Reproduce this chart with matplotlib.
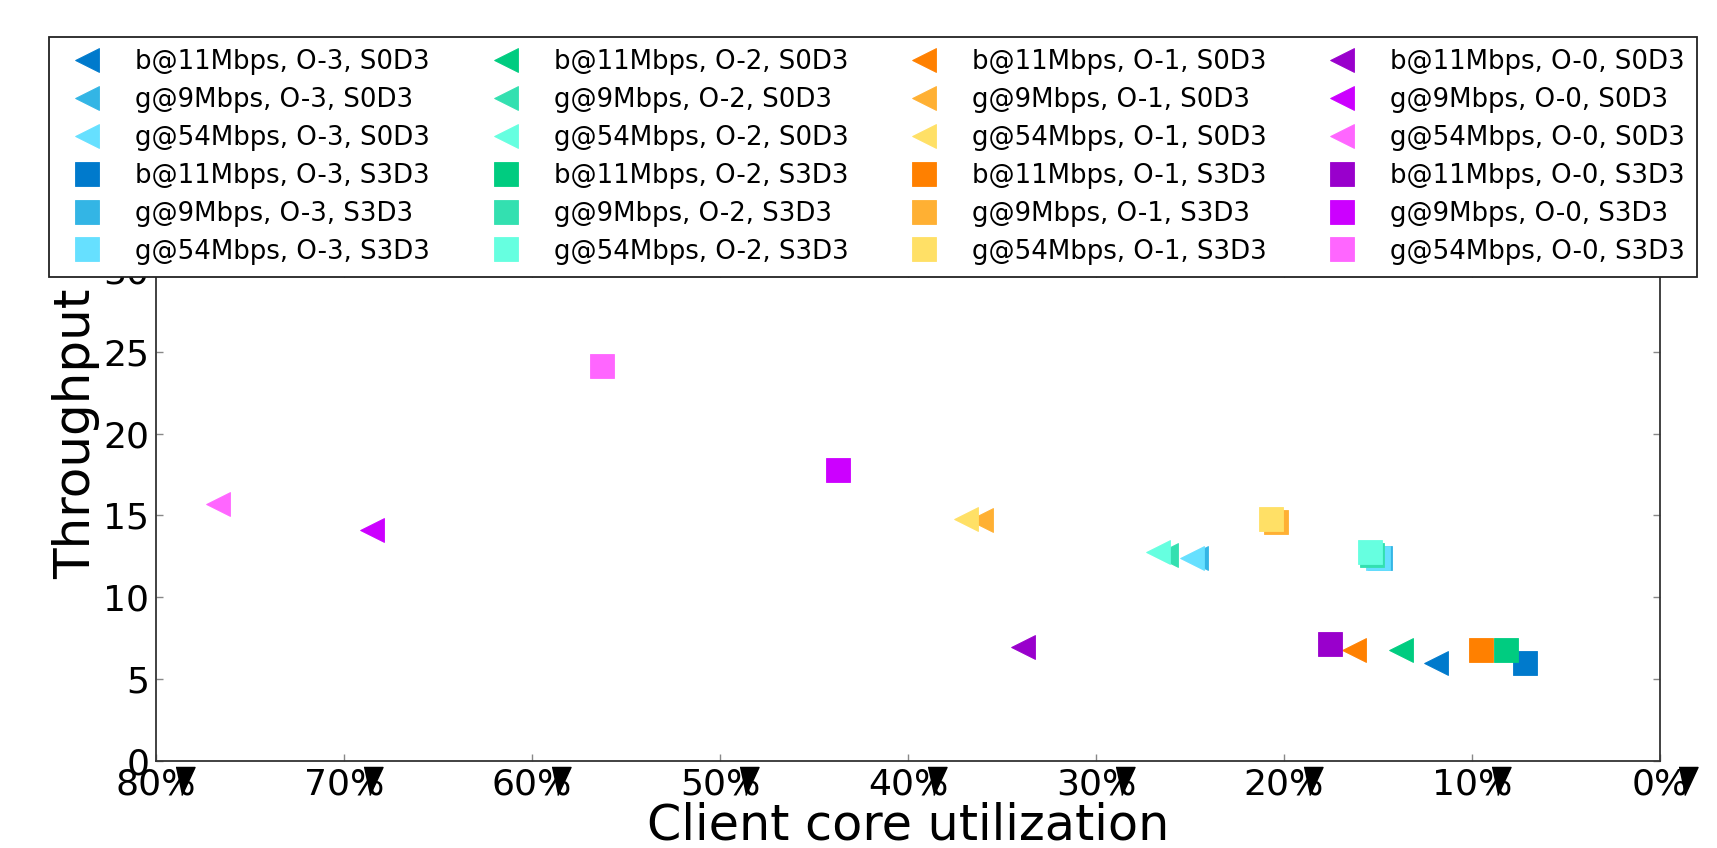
import matplotlib

matplotlib.use("Agg")
import matplotlib.pyplot as plt
from matplotlib.transforms import offset_copy

# series order: per O-level, b@11 S0D3, g@9 S0D3, g@54 S0D3, b@11 S3D3, g@9 S3D3, g@54 S3D3
labels = [
    "b@11Mbps, O-3, S0D3", "g@9Mbps, O-3, S0D3", "g@54Mbps, O-3, S0D3",
    "b@11Mbps, O-3, S3D3", "g@9Mbps, O-3, S3D3", "g@54Mbps, O-3, S3D3",
    "b@11Mbps, O-2, S0D3", "g@9Mbps, O-2, S0D3", "g@54Mbps, O-2, S0D3",
    "b@11Mbps, O-2, S3D3", "g@9Mbps, O-2, S3D3", "g@54Mbps, O-2, S3D3",
    "b@11Mbps, O-1, S0D3", "g@9Mbps, O-1, S0D3", "g@54Mbps, O-1, S0D3",
    "b@11Mbps, O-1, S3D3", "g@9Mbps, O-1, S3D3", "g@54Mbps, O-1, S3D3",
    "b@11Mbps, O-0, S0D3", "g@9Mbps, O-0, S0D3", "g@54Mbps, O-0, S0D3",
    "b@11Mbps, O-0, S3D3", "g@9Mbps, O-0, S3D3", "g@54Mbps, O-0, S3D3",
]
utilization = [
    11.9, 24.7, 24.9, 7.2, 14.9, 15.0,
    13.8, 26.3, 26.7, 8.2, 15.3, 15.4,
    16.3, 36.1, 36.9, 9.5, 20.4, 20.7,
    33.9, 68.5, 76.7, 17.55, 43.7, 56.3,
]
throughput = [
    6.0, 12.4, 12.4, 6.0, 12.4, 12.4,
    6.76, 12.6, 12.74, 6.78, 12.6, 12.75,
    6.8, 14.7, 14.8, 6.8, 14.6, 14.8,
    6.95, 14.1, 15.7, 7.13, 17.8, 24.15,
]
colors = [
    "#007ACC", "#33B5E5", "#66E0FF", "#007ACC", "#33B5E5", "#66E0FF",
    "#00CC80", "#33E0B0", "#66FFE0", "#00CC80", "#33E0B0", "#66FFE0",
    "#FF8000", "#FFB033", "#FFE066", "#FF8000", "#FFB033", "#FFE066",
    "#9900CC", "#CC00FF", "#FF66FF", "#9900CC", "#CC00FF", "#FF66FF",
]
markers = ["<", "<", "<", "s", "s", "s"] * 4

x_ticks = [80, 70, 60, 50, 40, 30, 20, 10, 0]
x_tick_labels = [f"{v}%" for v in x_ticks]
y_ticks = [0, 5, 10, 15, 20, 25, 30]

fig = plt.figure(figsize=(17.17, 8.48), dpi=100)
ax = fig.add_axes([0.0909, 0.1026, 0.8759, 0.579])

for xv, yv, c, m, lab in zip(utilization, throughput, colors, markers, labels):
    ax.plot([xv], [yv], linestyle="none", marker=m, markersize=17,
            color=c, markeredgecolor=c, markeredgewidth=0.6, label=lab)

ax.set_xlim(80, 0)
ax.set_ylim(0, 30)
ax.set_xticks(x_ticks)
ax.set_xticklabels(x_tick_labels)
ax.set_yticks(y_ticks)
ax.tick_params(direction="in", length=5, width=1, color="#888888",
               labelsize=26, pad=5, top=True, right=True)
for sp in ax.spines.values():
    sp.set_color("#333333")
    sp.set_linewidth(1.3)

ax.set_xlabel("Client core utilization", fontsize=35.5, labelpad=0)
ax.set_ylabel("Throughput", fontsize=36)
ax.yaxis.set_label_coords(-0.037, 0.667)

# odd black wedge printed over the '%' of every x tick label
wedge = [(-9.5, 14), (9.5, 14), (-3.5, -14)]
wedge_tr = offset_copy(ax.get_xaxis_transform(), fig=fig, x=28.5, y=-20, units="dots")
ax.plot(x_ticks, [0] * len(x_ticks), linestyle="none", marker=wedge,
        markersize=20.2, color="black", transform=wedge_tr, clip_on=False)

handles, labs = ax.get_legend_handles_labels()
leg = fig.legend(handles, labs, ncol=4, mode="expand", loc="upper left",
                 bbox_to_anchor=(49 / 1717, 1 - 37 / 848 - 0.01, 1648 / 1717, 0.01),
                 borderaxespad=0, fontsize=18.7, numpoints=1, labelspacing=0.455,
                 handlelength=2.0, handletextpad=0.85, borderpad=0.48,
                 fancybox=False, framealpha=1)
leg.get_frame().set_edgecolor("#222222")
leg.get_frame().set_linewidth(1.3)

fig.savefig("out.png", dpi=100)
